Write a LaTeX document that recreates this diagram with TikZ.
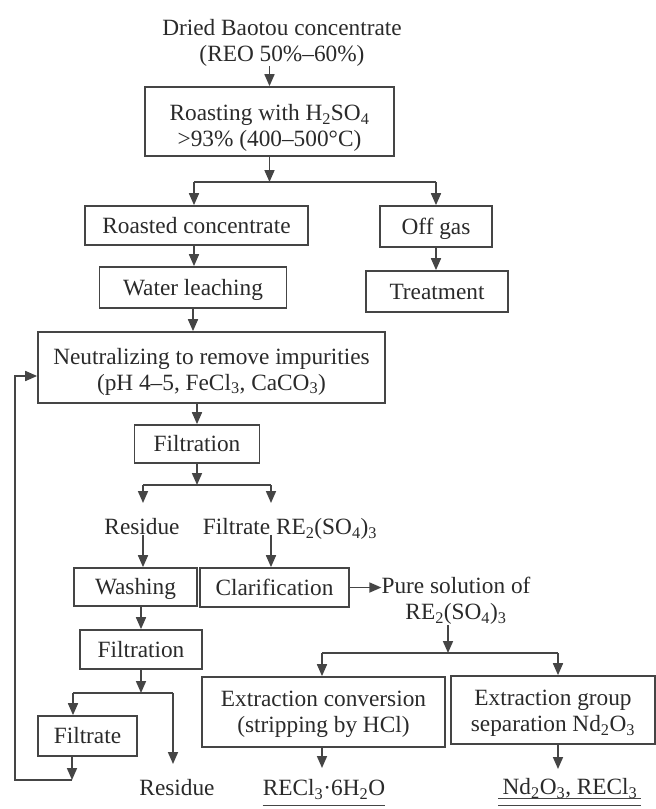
\documentclass[tikz,border=0pt]{standalone}
\usepackage{fontspec}
\setmainfont{Liberation Serif}
\usetikzlibrary{arrows.meta,calc}
\definecolor{lc}{HTML}{454545}
\definecolor{tc}{HTML}{2a2a2a}
\newcommand{\upstrut}[1]{\rule{0pt}{#1pt}}
\begin{document}
\begin{tikzpicture}[x=1pt,y=-1pt,font=\fontsize{23.3}{26}\selectfont,
  box/.style={draw=lc,line width=1.7pt,inner sep=0pt,align=center,text=tc},
  one/.style={text height=15.5pt,text depth=0pt},
  lbl/.style={inner sep=0pt,align=center,text=tc},
  ln/.style={draw=lc,line width=1.7pt},
  arr/.style={ln,-{Triangle[length=12pt,width=10pt]}}]
\fill[white] (0,0) rectangle (656,809);
\useasboundingbox (0,0) rectangle (656,809);

% nodes
\node[lbl] (dried) at (282,42.5) {Dried Baotou concentrate\\(REO 50\%–60\%)};
\node[box,minimum width=249pt,minimum height=69pt] (roast) at (269.5,121.5)
  {\upstrut{29}Roasting with H\textsubscript{2}SO\textsubscript{4}\\>93\% (400–500°C)};
\node[box,one,minimum width=223pt,minimum height=39pt] (roasted) at (196.5,225.5) {Roasted concentrate};
\node[box,one,minimum width=112pt,minimum height=41pt] (offgas) at (436,226.5) {Off gas};
\node[box,one,minimum width=142pt,minimum height=41pt] (treat) at (437,291.5) {Treatment};
\node[box,one,minimum width=187pt,minimum height=41pt] (water) at (193,287.5) {Water leaching};
\node[box,minimum width=347pt,minimum height=71pt] (neut) at (211.5,367.5)
  {\upstrut{24}Neutralizing to remove impurities\\(pH 4–5, FeCl\textsubscript{3}, CaCO\textsubscript{3})};
\node[box,one,minimum width=125pt,minimum height=38pt] (filt1) at (197,444) {Filtration};
\node[lbl,one] (res1) at (142,527) {Residue};
\node[lbl,one] (filtr) at (290,527) {Filtrate RE\textsubscript{2}(SO\textsubscript{4})\textsubscript{3}};
\node[box,one,minimum width=123pt,minimum height=38pt] (wash) at (135.5,587) {Washing};
\node[box,one,minimum width=149pt,minimum height=39pt] (clar) at (274.5,587.5) {Clarification};
\node[lbl] (pure) at (456,601) {Pure solution of\\RE\textsubscript{2}(SO\textsubscript{4})\textsubscript{3}};
\node[box,one,minimum width=122pt,minimum height=39pt] (filt2) at (141,649.5) {Filtration};
\node[box,one,minimum width=99pt,minimum height=40pt] (filtrate) at (87.5,736) {Filtrate};
\node[box,minimum width=243pt,minimum height=70pt] (extconv) at (323.5,712)
  {\upstrut{21}Extraction conversion\\(stripping by HCl)};
\node[box,minimum width=204pt,minimum height=68pt] (extgrp) at (553,710)
  {\upstrut{22}Extraction group\\separation Nd\textsubscript{2}O\textsubscript{3}};
\node[lbl,one] (res2) at (177,788) {Residue};
\node[lbl,one] (rec) at (324,788) {RECl\textsubscript{3}·6H\textsubscript{2}O};
\node[lbl,one] (nd) at (570,787) {Nd\textsubscript{2}O\textsubscript{3}, RECl\textsubscript{3}};

% branch coordinates
\coordinate (b1L) at (194,182);
\coordinate (b1R) at (436,182);
\coordinate (b2L) at (143,485);
\coordinate (b2R) at (271,485);
\coordinate (t2L) at (143,503);
\coordinate (t2R) at (271,503);
\coordinate (b3) at (448,653);
\coordinate (b3L) at (322,653);
\coordinate (b3R) at (558,653);
\coordinate (b4L) at (73,693);
\coordinate (b4R) at (173,693);
\coordinate (t4R) at (173,764);
\coordinate (f1) at (72,780);
\coordinate (f0) at (15,780);
\coordinate (f2) at (15,376);
\coordinate (t5) at (322,768);
\coordinate (t6) at (558,769);

% connectors
\draw[arr] (dried.south -| roast.north) -- (roast.north);
\draw[arr] (roast.south) -- (roast.south |- b1L);
\draw[ln] (b1L) -- (b1R);
\draw[arr] (b1L) -- (b1L |- roasted.north);
\draw[arr] (b1R) -- (b1R |- offgas.north);
\draw[arr] (offgas.south) -- (offgas.south |- treat.north);
\draw[arr] (roasted.south -| b1L) -- (b1L |- water.north);
\draw[arr] (water.south) -- (water.south |- neut.north);
\draw[arr] (neut.south -| filt1.north) -- (filt1.north);
\draw[arr] (filt1.south) -- (filt1.south |- b2L);
\draw[ln] (b2L) -- (b2R);
\draw[arr] (b2L) -- (t2L);
\draw[arr] (b2R) -- (t2R);
\draw[arr] (res1.south -| b2L) -- (b2L |- wash.north);
\draw[arr] (filtr.south -| b2R) -- (b2R |- clar.north);
\draw[arr] (clar.east) -- (clar.east -| pure.west);
\draw[arr] (pure.south -| b3) -- (b3);
\draw[ln] (b3L) -- (b3R);
\draw[arr] (b3L) -- (b3L |- extconv.north);
\draw[arr] (b3R) -- (b3R |- extgrp.north);
\draw[arr] (wash.south -| filt2.north) -- (filt2.north);
\draw[arr] (filt2.south) -- (filt2.south |- b4L);
\draw[ln] (b4L) -- (b4R);
\draw[arr] (b4L) -- (b4L |- filtrate.north);
\draw[arr] (b4R) -- (t4R);
\draw[arr] (filtrate.south -| f1) -- (f1);
\draw[arr] (f1) -- (f0) -- (f2) -- (f2 -| neut.west);
\draw[arr] (extconv.south -| t5) -- (t5);
\draw[arr] (extgrp.south -| t6) -- (t6);

% underlines
\draw[ln,line width=1.2pt] ($(rec.base west)+(0,10)$) -- ($(rec.base east)+(0,10)$);
\draw[ln,line width=1.2pt] ($(nd.base west)+(-4,3.5)$) -- ($(nd.base east)+(3,3.5)$);
\draw[ln,line width=1.2pt] ($(nd.base west)+(-4,11)$) -- ($(nd.base east)+(3,11)$);
\end{tikzpicture}
\end{document}
